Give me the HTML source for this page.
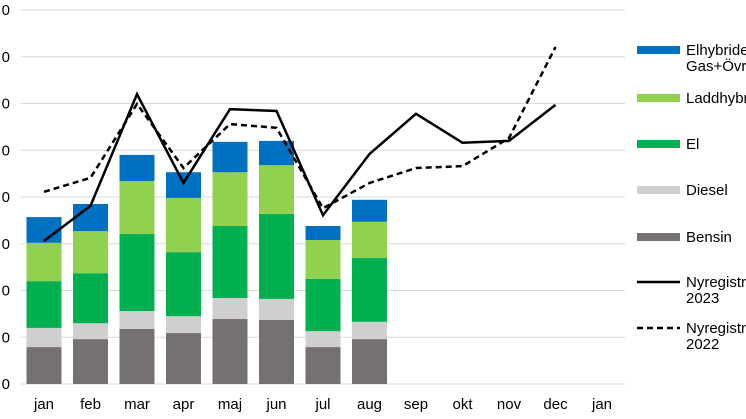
<!DOCTYPE html>
<html><head><meta charset="utf-8"><style>
html,body{margin:0;padding:0;background:#fff;overflow:hidden}
svg{display:block;font-family:"Liberation Sans",Arial,sans-serif}
</style></head><body>
<svg id="chart" width="746" height="419"></svg>
<script>
const categories=["jan","feb","mar","apr","maj","jun","jul","aug","sep","okt","nov","dec","jan"];
const bensin=[0.79,0.96,1.18,1.09,1.39,1.37,0.79,0.96];
const diesel=[0.41,0.34,0.38,0.36,0.45,0.45,0.34,0.37];
const el=[1.0,1.07,1.65,1.37,1.54,1.82,1.12,1.37];
const ladd=[0.82,0.9,1.13,1.16,1.15,1.04,0.83,0.77];
const elhyb=[0.55,0.58,0.56,0.55,0.65,0.52,0.3,0.47];
const line2023=[3.06,3.81,6.2,4.3,5.88,5.84,3.61,4.92,5.78,5.16,5.2,5.97];
const line2022=[4.11,4.41,5.99,4.62,5.56,5.48,3.76,4.3,4.62,4.66,5.26,7.21];
const yTicks=[0,1,2,3,4,5,6,7,8];
const yTickLabels=["0","0","0","0","0","0","0","0","0"];
const NS="http://www.w3.org/2000/svg";
const svg=document.getElementById('chart');
const x0=20.75,step=46.5,y0=384,unit=46.75;
const xC=i=>x0+step*(i+0.5);
const yS=v=>y0-v*unit;
function mk(t,a,p){const e=document.createElementNS(NS,t);for(const k in a)e.setAttribute(k,a[k]);(p||svg).appendChild(e);return e;}
yTicks.forEach((t,i)=>{
 const l=mk('line',{x1:x0,x2:625,y1:yS(t),y2:yS(t),stroke:'#d9d9d9','stroke-width':1});
 
 
 const tx=mk('text',{x:10,y:yS(t)+5,'text-anchor':'end','font-size':15,fill:'#000'});
 tx.textContent=yTickLabels[i];
 
 
});
const series=[[bensin,'#767171','bensin'],[diesel,'#d0cece','diesel'],[el,'#00b050','el'],[ladd,'#92d050','laddhybrid'],[elhyb,'#0070c0','elhybrid']];
for(let i=0;i<bensin.length;i++){
 let acc=0;
 series.forEach(([arr,c,n])=>{
  const v=arr[i];
  const r=mk('rect',{x:xC(i)-17.5,y:yS(acc+v),width:35,height:v*unit,fill:c});
  
  
  acc+=v;
 });
}
categories.forEach((c,i)=>{
 const t=mk('text',{x:xC(i),y:409,'text-anchor':'middle','font-size':15,fill:'#000'});
 t.textContent=c;
 
 
});
function line(arr,dash,name){
 const p=mk('polyline',{points:arr.map((v,i)=>xC(i)+','+yS(v)).join(' '),fill:'none',stroke:'#000','stroke-width':2.5,'stroke-dasharray':dash,'stroke-linejoin':'miter'});
 
 
}
line(line2022,'6,4','line-2022');
line(line2023,'none','line-2023');
const leg=[['rect','#0070c0',['Elhybrider','Gas+Övrigt'],50],['rect','#92d050',['Laddhybrider'],98],['rect','#00b050',['El'],144],['rect','#d0cece',['Diesel'],190],['rect','#767171',['Bensin'],237],['solid','#000',['Nyregistreringar','2023'],282],['dash','#000',['Nyregistreringar','2022'],328]];
leg.forEach(([k,c,lab,y])=>{
 const g=mk('g',{});
 
 
 if(k==='rect')mk('rect',{x:637,y:y-4,width:43,height:8,fill:c},g);
 else mk('line',{x1:637,x2:680,y1:y,y2:y,stroke:'#000','stroke-width':2.5,'stroke-dasharray':k==='dash'?'6,4':'none'},g);
 lab.forEach((s,j)=>{const t=mk('text',{x:686,y:y+5+j*16,'font-size':15,fill:'#000'},g);t.textContent=s;});
});
</script>
</body></html>
